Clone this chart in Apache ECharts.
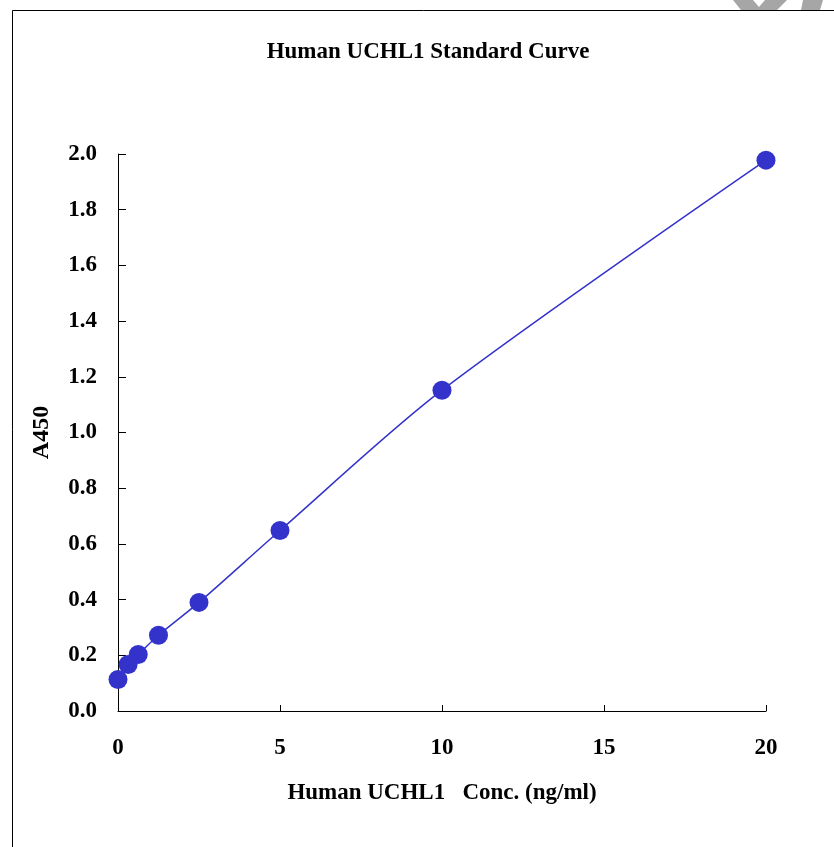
<!DOCTYPE html>
<html>
<head>
<meta charset="utf-8">
<script src="https://cdn.jsdelivr.net/npm/echarts@6/dist/echarts.min.js"></script>
<style>
  html, body { margin: 0; padding: 0; background: #fff; }
  #main { width: 834px; height: 847px; }
</style>
</head>
<body>
<div id="main"></div>
<script>
var conc = [0, 0.3125, 0.625, 1.25, 2.5, 5, 10, 20];
var a450 = [0.113, 0.167, 0.203, 0.272, 0.39, 0.648, 1.152, 1.978];
var xTicks = [0, 5, 10, 15, 20];

var font = '"Liberation Serif", "Times New Roman", serif';
var chart = echarts.init(document.getElementById('main'));

var option = {
    animation: false,
    backgroundColor: '#fff',
    graphic: [
        // faint watermark pieces peeking in at the top right
        {
            type: 'polygon',
            shape: { points: [[733, 0], [753, 0], [759, 7], [765, 0], [787, 0], [777, 10], [741, 10]] },
            style: { fill: '#a6a6a6' }
        },
        {
            type: 'polygon',
            shape: { points: [[803, 0], [823, 0], [820, 10], [801, 10]] },
            style: { fill: '#a6a6a6' }
        },
        {
            type: 'rect',
            shape: { x: 12.5, y: 10.5, width: 840, height: 860 },
            style: { fill: 'none', stroke: '#000', lineWidth: 1 }
        },
        {
            type: 'text',
            x: 428,
            y: 52,
            style: {
                text: 'Human UCHL1 Standard Curve',
                font: 'bold 23px ' + font,
                fill: '#000',
                align: 'center',
                verticalAlign: 'middle'
            }
        }
    ],
    grid: { left: 118, right: 68, top: 154, bottom: 136 },
    xAxis: {
        type: 'value',
        min: 0,
        max: 20,
        interval: 5,
        name: 'Human UCHL1   Conc. (ng/ml)',
        nameLocation: 'middle',
        nameGap: 71,
        nameTextStyle: { fontFamily: font, fontWeight: 'bold', fontSize: 23, color: '#000' },
        axisLine: { lineStyle: { color: '#000', width: 1 } },
        axisTick: { inside: true, length: 6, lineStyle: { color: '#000' } },
        axisLabel: {
            margin: 26,
            fontFamily: font, fontWeight: 'bold', fontSize: 23, color: '#000',
            formatter: function (v) { return xTicks.indexOf(v) >= 0 ? String(v) : ''; }
        },
        splitLine: { show: false }
    },
    yAxis: {
        type: 'value',
        min: 0,
        max: 2,
        interval: 0.2,
        name: 'A450',
        nameLocation: 'middle',
        nameGap: 64,
        nameRotate: 90,
        nameTextStyle: { fontFamily: font, fontWeight: 'bold', fontSize: 24, color: '#000' },
        axisLine: { show: true, lineStyle: { color: '#000', width: 1 } },
        axisTick: { show: true, inside: true, length: 8, lineStyle: { color: '#000' } },
        axisLabel: {
            margin: 21,
            fontFamily: font, fontWeight: 'bold', fontSize: 23, color: '#000',
            formatter: function (v) { return v.toFixed(1); }
        },
        splitLine: { show: false }
    },
    series: [{
        type: 'line',
        data: conc.map(function (c, i) { return [c, a450[i]]; }),
        smooth: 0.3,
        symbol: 'circle',
        symbolSize: 19,
        lineStyle: { color: '#3333cc', width: 1.5 },
        itemStyle: { color: '#3333cc' }
    }]
};
chart.setOption(option);
</script>
</body>
</html>
